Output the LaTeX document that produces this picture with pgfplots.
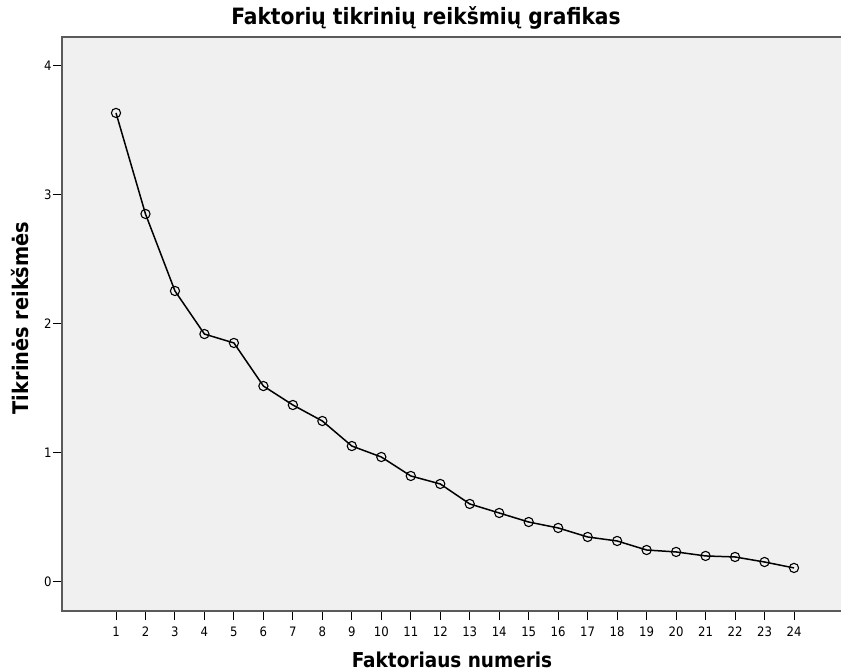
\documentclass[border=0pt]{standalone}
\usepackage{pgfplots}
\pgfplotsset{compat=1.18}
\usepackage{fontspec}
\setmainfont{DejaVu Sans Condensed}
\definecolor{bggray}{HTML}{F0F0F0}
\definecolor{framegray}{HTML}{5A5A5A}
\begin{document}
\begin{tikzpicture}
\useasboundingbox (-62pt,-60pt) rectangle (779pt,611pt);
\begin{axis}[
  at={(0pt,0pt)}, anchor=south west,
  scale only axis,
  width=783pt, height=574pt,
  xmin=-0.832, xmax=25.73,
  ymin=-0.2248, ymax=4.2248,
  axis background/.style={fill=bggray},
  axis line style={framegray, line width=1.6pt},
  xtick={1,...,24},
  ytick={0,1,2,3,4},
  tick align=outside,
  xtick pos=bottom, ytick pos=left,
  major tick length=9pt,
  every tick/.style={black, line width=1pt},
  tick label style={font=\fontsize{13}{15}\selectfont},
  /pgf/number format/assume math mode=true,
  xticklabel style={yshift=-3pt},
  yticklabel style={xshift=2pt},
  clip=false,
]
\addplot[black, line width=1.5pt, mark=o, mark size=4.6pt, mark options={line width=1.1pt}] coordinates {
(1,3.636) (2,2.853) (3,2.256) (4,1.922) (5,1.853) (6,1.519) (7,1.372) (8,1.248)
(9,1.054) (10,0.969) (11,0.822) (12,0.760) (13,0.605) (14,0.535) (15,0.465) (16,0.419)
(17,0.349) (18,0.318) (19,0.248) (20,0.233) (21,0.202) (22,0.194) (23,0.155) (24,0.109)
};
\end{axis}
\node[font=\fontsize{22.5}{26}\selectfont\bfseries] at (426pt-62pt,611pt-18pt) {Faktorių tikrinių reikšmių grafikas};
\node[font=\fontsize{20.5}{24}\selectfont\bfseries] at (452pt-62pt,611pt-660pt) {Faktoriaus numeris};
\node[font=\fontsize{21.5}{25}\selectfont\bfseries, rotate=90] at (20pt-62pt,611pt-318pt) {Tikrinės reikšmės};
\end{tikzpicture}
\end{document}
